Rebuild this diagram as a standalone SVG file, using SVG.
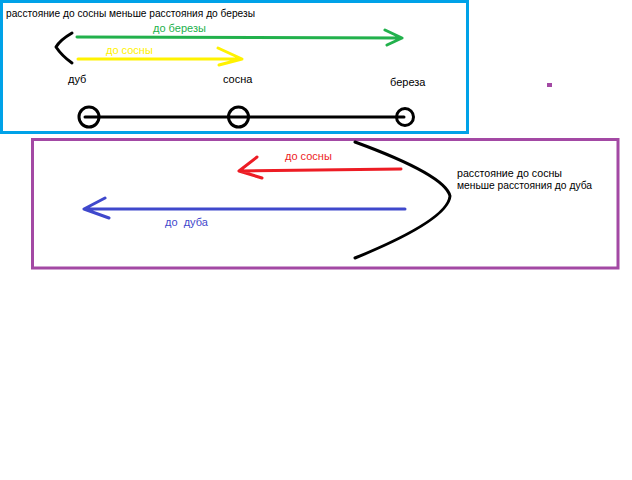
<svg xmlns="http://www.w3.org/2000/svg" width="632" height="480" viewBox="0 0 632 480">
<style>
  text { font-family: "Liberation Sans", Arial, sans-serif; font-size: 11px; }
  .box { fill: none; stroke-width: 3; }
  .ln { fill: none; stroke-width: 3; stroke-linecap: round; stroke-linejoin: round; }
  .k { stroke: #000; }
  .g { stroke: #22b14c; }
  .y { stroke: #fff200; }
  .r { stroke: #ed1c24; }
  .b { stroke: #3f48cc; }
</style>
<rect width="632" height="480" fill="#fff"/>
<g id="frame-top">
  <rect class="box" x="1.5" y="1.5" width="466" height="131" stroke="#00a2e8"/>
  <text x="6" y="17" fill="#000" textLength="249" lengthAdjust="spacingAndGlyphs">расстояние до сосны меньше расстояния до березы</text>
</g>
<g id="frame-bottom">
  <rect class="box" x="32.5" y="139.5" width="585.5" height="128.5" stroke="#a349a4"/>
  <text x="457" y="177" fill="#000" textLength="105" lengthAdjust="spacingAndGlyphs">расстояние до сосны</text>
  <text x="457" y="189" fill="#000" textLength="135" lengthAdjust="spacingAndGlyphs">меньше расстояния до дуба</text>
</g>
<rect id="dot" x="547" y="83" width="5" height="4" fill="#a349a4"/>
<g id="oak">
  <circle class="ln k" cx="89" cy="117" r="10"/>
  <text x="68" y="83" fill="#000">дуб</text>
</g>
<g id="pine">
  <circle class="ln k" cx="238.5" cy="117" r="10"/>
  <text x="223" y="83" fill="#000">сосна</text>
</g>
<g id="birch">
  <circle class="ln k" cx="405" cy="117" r="8.5"/>
  <text x="390" y="86" fill="#000">береза</text>
</g>
<g id="connectors">
  <line class="ln k" x1="85" y1="117" x2="404" y2="117"/>
  <path class="ln k" d="M72,33 Q60,40 56,47 Q62,56 72,63"/>
  <path class="ln g" d="M77,37 L402,38 M385,30 L402,38 L387,45"/>
  <text x="153" y="32" fill="#22b14c">до березы</text>
  <path class="ln y" d="M78,59 L242,59 M218,48 L242,59 L219,65"/>
  <text x="106" y="54" fill="#fff200">до сосны</text>
  <path class="ln r" d="M401,169 L239,171 M257,157 L239,171 L262,178"/>
  <text x="285" y="160" fill="#ed1c24">до сосны</text>
  <path class="ln b" d="M405,209 L84,209 M105,198 L84,209 L109,218"/>
  <text x="165" y="226" fill="#3f48cc" style="white-space:pre">до  дуба</text>
  <path class="ln k" d="M355,142 Q445,175 450,196 Q448,220 355,258"/>
</g>
</svg>
